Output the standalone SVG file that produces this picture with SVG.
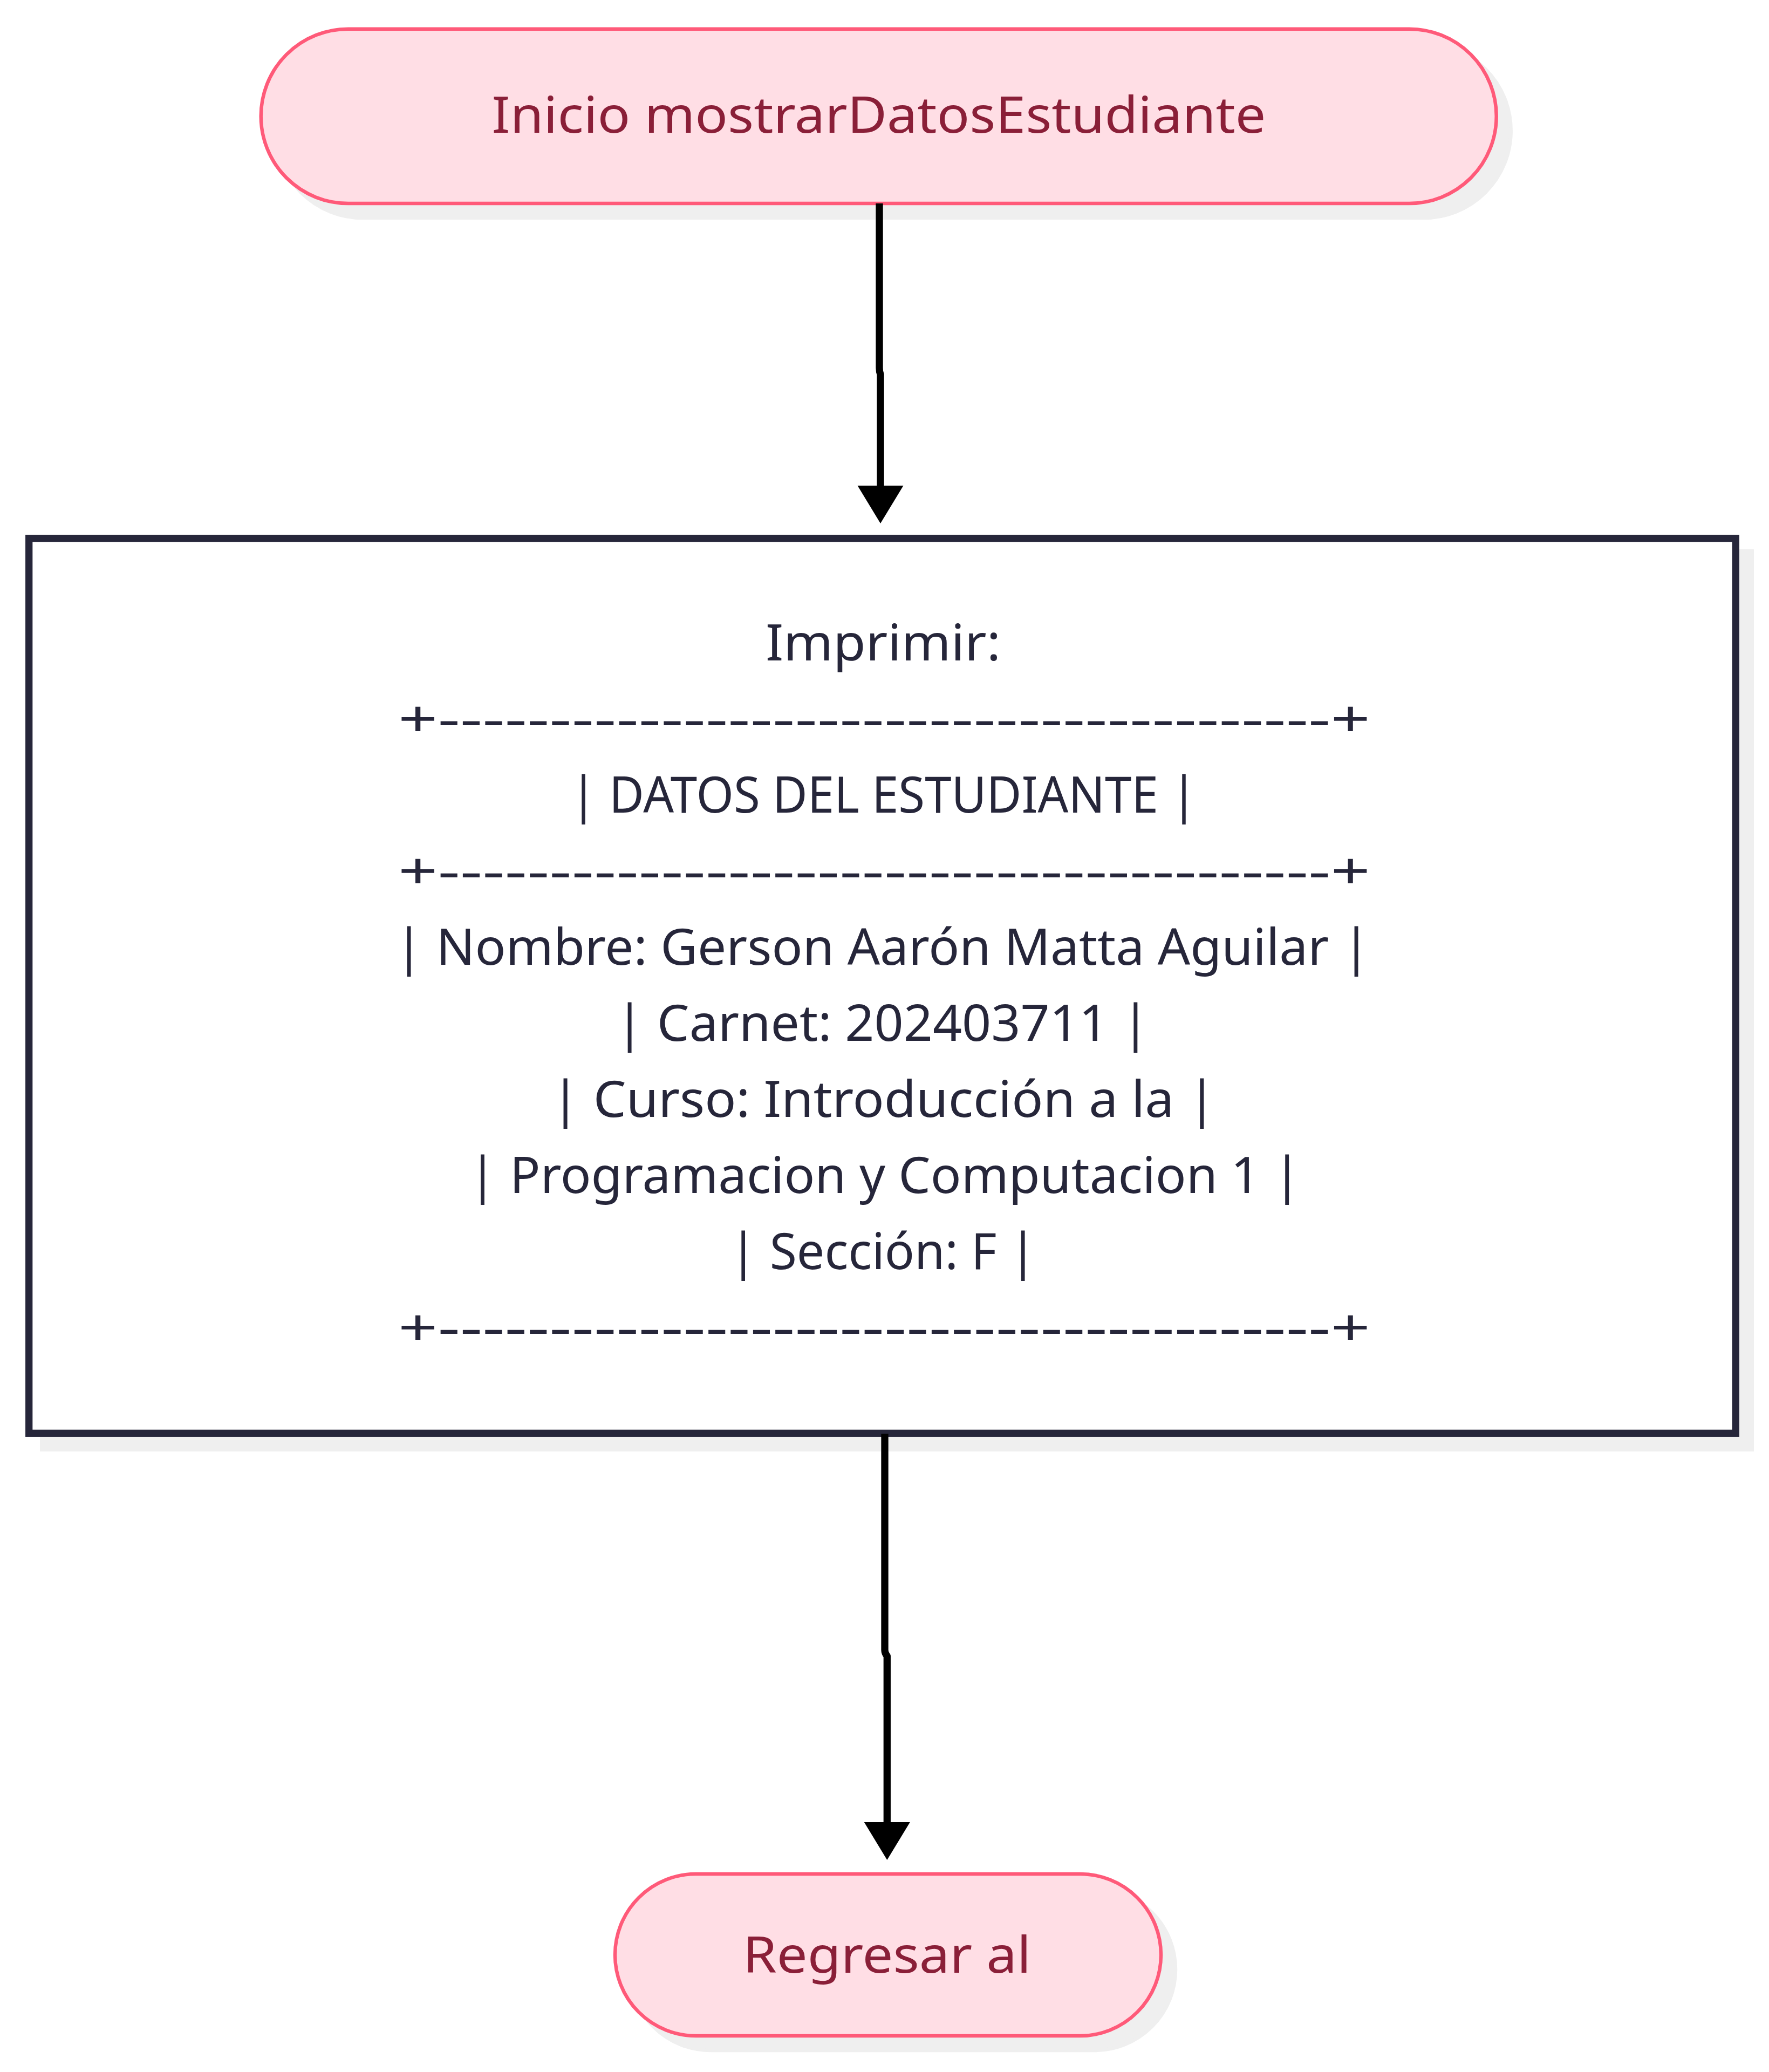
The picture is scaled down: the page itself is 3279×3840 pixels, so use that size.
<svg xmlns="http://www.w3.org/2000/svg" width="3279" height="3840" viewBox="0 0 3279 3840">
<style>
.shadow{fill:#efefef;stroke:#efefef}
.term{fill:#ffdee5;stroke:#ff5a79;stroke-width:6.5}
.proc{fill:#ffffff;stroke:#26263a;stroke-width:13.3}
.edge{fill:none;stroke:#000000;stroke-width:13.3;stroke-linejoin:round}
.t{font-family:"Noto Sans","Open Sans","DejaVu Sans",sans-serif;font-size:94px;text-anchor:middle}
.tterm{fill:#8a1f38}
.tproc{fill:#26263a}
</style>
<defs>
<marker id="arrow" markerUnits="userSpaceOnUse" markerWidth="72" markerHeight="86" refX="0" refY="42.5" orient="auto" viewBox="0 0 72 86">
<path d="M0,0 L70,42.5 L0,85 Z" fill="#000000"/>
</marker>
</defs>
<rect width="3279" height="3840" fill="#ffffff"/>
<g id="inicio">
<rect class="shadow" x="510.7" y="80.7" width="2290" height="323.3" rx="161.6" ry="161.6" stroke-width="6.5"/>
<rect class="term" x="483.7" y="53.7" width="2290" height="323.3" rx="161.6" ry="161.6"/>
<text class="t tterm" x="1629" y="246" textLength="1435" lengthAdjust="spacingAndGlyphs">Inicio mostrarDatosEstudiante</text>
</g>
<g id="imprimir">
<rect class="shadow" x="80.7" y="1024.7" width="3163.6" height="1658.6" stroke-width="13.3"/>
<rect class="proc" x="53.7" y="997.7" width="3163.6" height="1658.6"/>
<text class="t tproc" x="1637" y="1224" textLength="436" lengthAdjust="spacingAndGlyphs">Imprimir:</text>
<text class="t tproc" x="1639" y="1365" textLength="1802" lengthAdjust="spacingAndGlyphs">+----------------------------------------+</text>
<text class="t tproc" x="1638" y="1506" textLength="1162" lengthAdjust="spacingAndGlyphs">| DATOS DEL ESTUDIANTE |</text>
<text class="t tproc" x="1639" y="1647" textLength="1802" lengthAdjust="spacingAndGlyphs">+----------------------------------------+</text>
<text class="t tproc" x="1636" y="1788" textLength="1808" lengthAdjust="spacingAndGlyphs">| Nombre: Gerson Aarón Matta Aguilar |</text>
<text class="t tproc" x="1636" y="1929" textLength="990" lengthAdjust="spacingAndGlyphs">| Carnet: 202403711 |</text>
<text class="t tproc" x="1638" y="2070" textLength="1233" lengthAdjust="spacingAndGlyphs">| Curso: Introducción a la |</text>
<text class="t tproc" x="1640" y="2211" textLength="1543" lengthAdjust="spacingAndGlyphs">| Programacion y Computacion 1 |</text>
<text class="t tproc" x="1637" y="2352" textLength="569" lengthAdjust="spacingAndGlyphs">| Sección: F |</text>
<text class="t tproc" x="1639" y="2493" textLength="1802" lengthAdjust="spacingAndGlyphs">+----------------------------------------+</text>
</g>
<g id="regresar">
<rect class="shadow" x="1167" y="3500" width="1012" height="300" rx="150" ry="150" stroke-width="6.5"/>
<rect class="term" x="1140" y="3473" width="1012" height="300" rx="150" ry="150"/>
<text class="t tterm" x="1644" y="3656" textLength="534" lengthAdjust="spacingAndGlyphs">Regresar al</text>
</g>
<g id="edges">
<path class="edge" d="M1630,377 L1630,682 Q1630,689 1632,694 L1632,900" marker-end="url(#arrow)"/>
<path class="edge" d="M1640,2657 L1640,3058 Q1640,3064 1644.3,3069 L1644.3,3377" marker-end="url(#arrow)"/>
</g>
</svg>
